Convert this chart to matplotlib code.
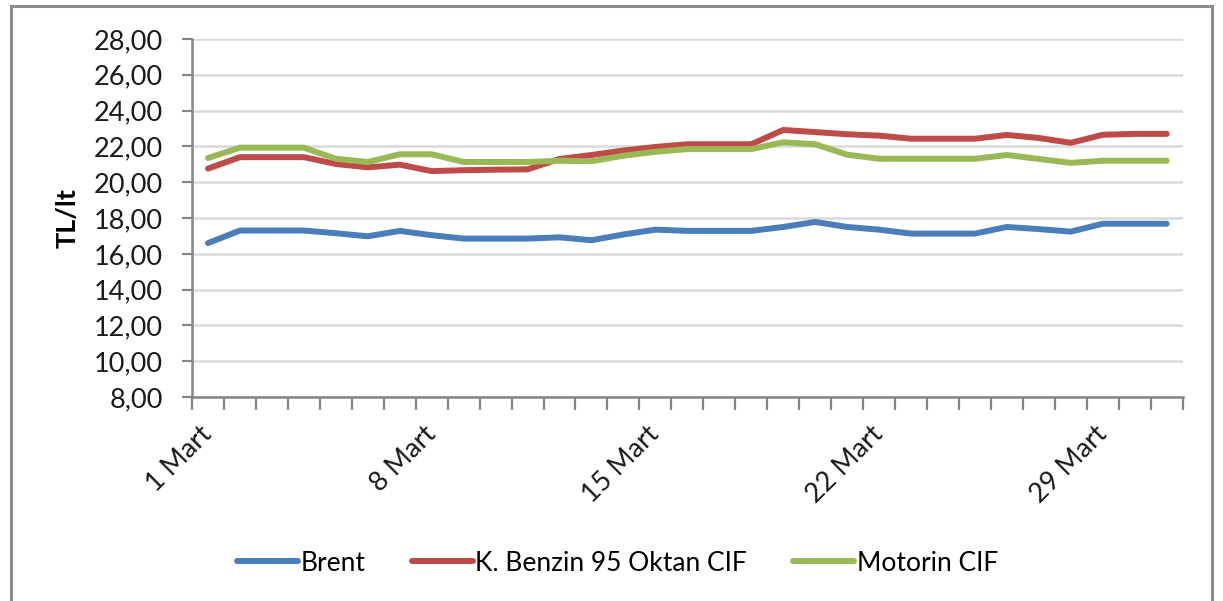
import matplotlib.pyplot as plt
from matplotlib.patches import Rectangle
from matplotlib.ticker import FixedLocator, FuncFormatter
import numpy as np

# days of March and prices (TL/lt)
days = list(range(1, 32))
tick_days = [1, 8, 15, 22, 29]
tick_labels = ['1 Mart', '8 Mart', '15 Mart', '22 Mart', '29 Mart']

brent = [16.60, 17.30, 17.30, 17.30, 17.15, 16.98, 17.28, 17.04, 16.85, 16.85,
         16.85, 16.92, 16.76, 17.08, 17.35, 17.28, 17.28, 17.28, 17.50, 17.78,
         17.50, 17.35, 17.13, 17.13, 17.13, 17.50, 17.38, 17.24, 17.68, 17.68,
         17.68]
benzin = [20.76, 21.40, 21.40, 21.40, 21.02, 20.83, 20.98, 20.62, 20.67, 20.70,
          20.72, 21.30, 21.52, 21.77, 21.97, 22.12, 22.12, 22.12, 22.92, 22.80,
          22.68, 22.60, 22.43, 22.43, 22.43, 22.64, 22.47, 22.20, 22.65, 22.70,
          22.70]
motorin = [21.35, 21.93, 21.93, 21.93, 21.31, 21.13, 21.56, 21.56, 21.13, 21.13,
           21.13, 21.20, 21.17, 21.48, 21.70, 21.85, 21.85, 21.85, 22.23, 22.12,
           21.54, 21.31, 21.31, 21.31, 21.31, 21.52, 21.30, 21.08, 21.20, 21.20,
           21.20]

series = [('Brent', brent, '#4A7EBB'),
          ('K. Benzin 95 Oktan CIF', benzin, '#BE4B48'),
          ('Motorin CIF', motorin, '#98B954')]

plt.rcParams['font.family'] = ['Lato', 'DejaVu Sans']
axis_gray = '#868686'
fs = 19.5

fig = plt.figure(figsize=(12.23, 6.01), dpi=100)
ax = fig.add_axes([0.157, 0.3394, 0.81, 0.5957])

# outer chart frame
fig.patches.append(Rectangle((0.009, -0.01), 0.982, 1.0, transform=fig.transFigure,
                             fill=False, edgecolor='#8C8C8C', linewidth=2.2))

for name, vals, color in series:
    ax.plot(days, vals, color=color, linewidth=4.3, label=name,
            solid_capstyle='round', solid_joinstyle='round', zorder=3)

ax.set_ylim(8, 28)
ax.set_yticks(np.arange(8, 29, 2))
ax.yaxis.set_major_formatter(FuncFormatter(lambda v, p: f'{v:.2f}'.replace('.', ',')))
ax.set_xlim(0.5, 31.5)

ax.set_xticks(tick_days)
ax.set_xticklabels(tick_labels, rotation=45, ha='right', va='center',
                   rotation_mode='anchor')
ax.xaxis.set_minor_locator(FixedLocator(np.arange(0.5, 32, 1)))
ax.tick_params(axis='x', which='major', length=0, pad=24, labelsize=fs,
               labelcolor='#1a1a1a')
ax.tick_params(axis='x', which='minor', length=9, width=1.6, color=axis_gray,
               direction='out')
ax.tick_params(axis='y', length=7, width=1.6, color=axis_gray, pad=14,
               labelsize=fs, labelcolor='#1a1a1a')

ax.grid(axis='y', color='#D9D9D9', linewidth=1.8, zorder=0)
ax.set_axisbelow(True)
for side in ['top', 'right']:
    ax.spines[side].set_visible(False)
for side in ['left', 'bottom']:
    ax.spines[side].set_color(axis_gray)
    ax.spines[side].set_linewidth(1.8)

ax.set_ylabel('TL/lt', fontsize=fs, fontweight='bold', labelpad=10)

fig.legend(loc='center', bbox_to_anchor=(0.505, 0.063), ncol=3, frameon=False,
           fontsize=19, handlelength=2.3, handletextpad=0.1, columnspacing=1.75)

plt.savefig('out.png', dpi=100)
